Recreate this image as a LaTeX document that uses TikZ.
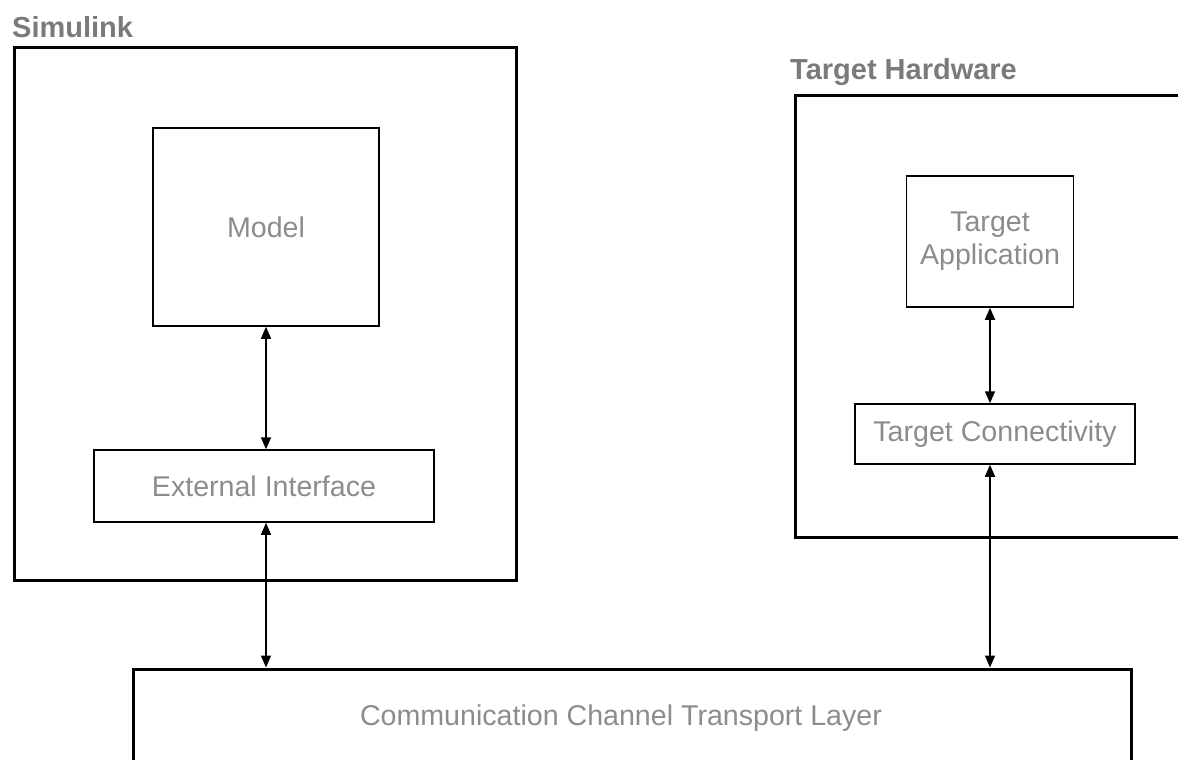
\documentclass[tikz,border=0pt]{standalone}
\usepackage{fontspec}
\setmainfont{Liberation Sans}
\usetikzlibrary{arrows.meta}
\definecolor{txtgray}{HTML}{8C8C8C}
\definecolor{titlegray}{HTML}{7A7A7A}
\tikzset{
  outerbox/.style={draw=black, line width=3pt, rectangle, inner sep=0pt},
  innerbox/.style={draw=black, line width=1.5pt, rectangle, inner sep=0pt, text=txtgray,
    font=\fontsize{28.6}{33}\selectfont, align=center},
  titletext/.style={text=titlegray, font=\bfseries\fontsize{29}{33}\selectfont, inner sep=0pt, anchor=west},
  link/.style={line width=1.5pt, {Triangle[length=12pt,width=10pt]}-{Triangle[length=12pt,width=10pt]}}
}
\begin{document}
\begin{tikzpicture}[x=1pt,y=-1pt]
\useasboundingbox (0,0) rectangle (1178,760);
\clip (0,0) rectangle (1178,760);
% Simulink side
\node[titletext] (simtitle) at (12,27) {Simulink};
\node[outerbox, minimum width=502pt, minimum height=532pt] (sim) at (265,314) {};
\node[innerbox, minimum width=226pt, minimum height=198pt] (model) at (266,227) {Model};
\node[innerbox, minimum width=340pt, minimum height=72pt] (ext) at (264,486) {External Interface};
% Target side
\node[titletext] (thtitle) at (790,72) {Target Hardware};
\node[outerbox, minimum width=460pt, minimum height=442pt] (th) at (1025,316) {};
\node[innerbox, minimum width=167pt, minimum height=131pt] (ta) at (990,241.5) {Target\\Application};
\node[innerbox, minimum width=280pt, minimum height=60pt] (tc) at (995,434) {Target Connectivity};
% Communication channel
\node[outerbox, minimum width=998pt, minimum height=160pt, text=txtgray,
  font=\fontsize{28.6}{33}\selectfont, text depth=0pt] (comm) at (632,749) {};
\node[text=txtgray, font=\fontsize{28.6}{33}\selectfont, inner sep=0pt] (commtext) at (621,718) {Communication Channel Transport Layer};
% connectors
\draw[link] (model.south) -- (model.south |- ext.north);
\draw[link] (ext.south -| model.south) -- (model.south |- comm.north);
\draw[link] (ta.south) -- (ta.south |- tc.north);
\draw[link] (tc.south -| ta.south) -- (ta.south |- comm.north);
\end{tikzpicture}
\end{document}
